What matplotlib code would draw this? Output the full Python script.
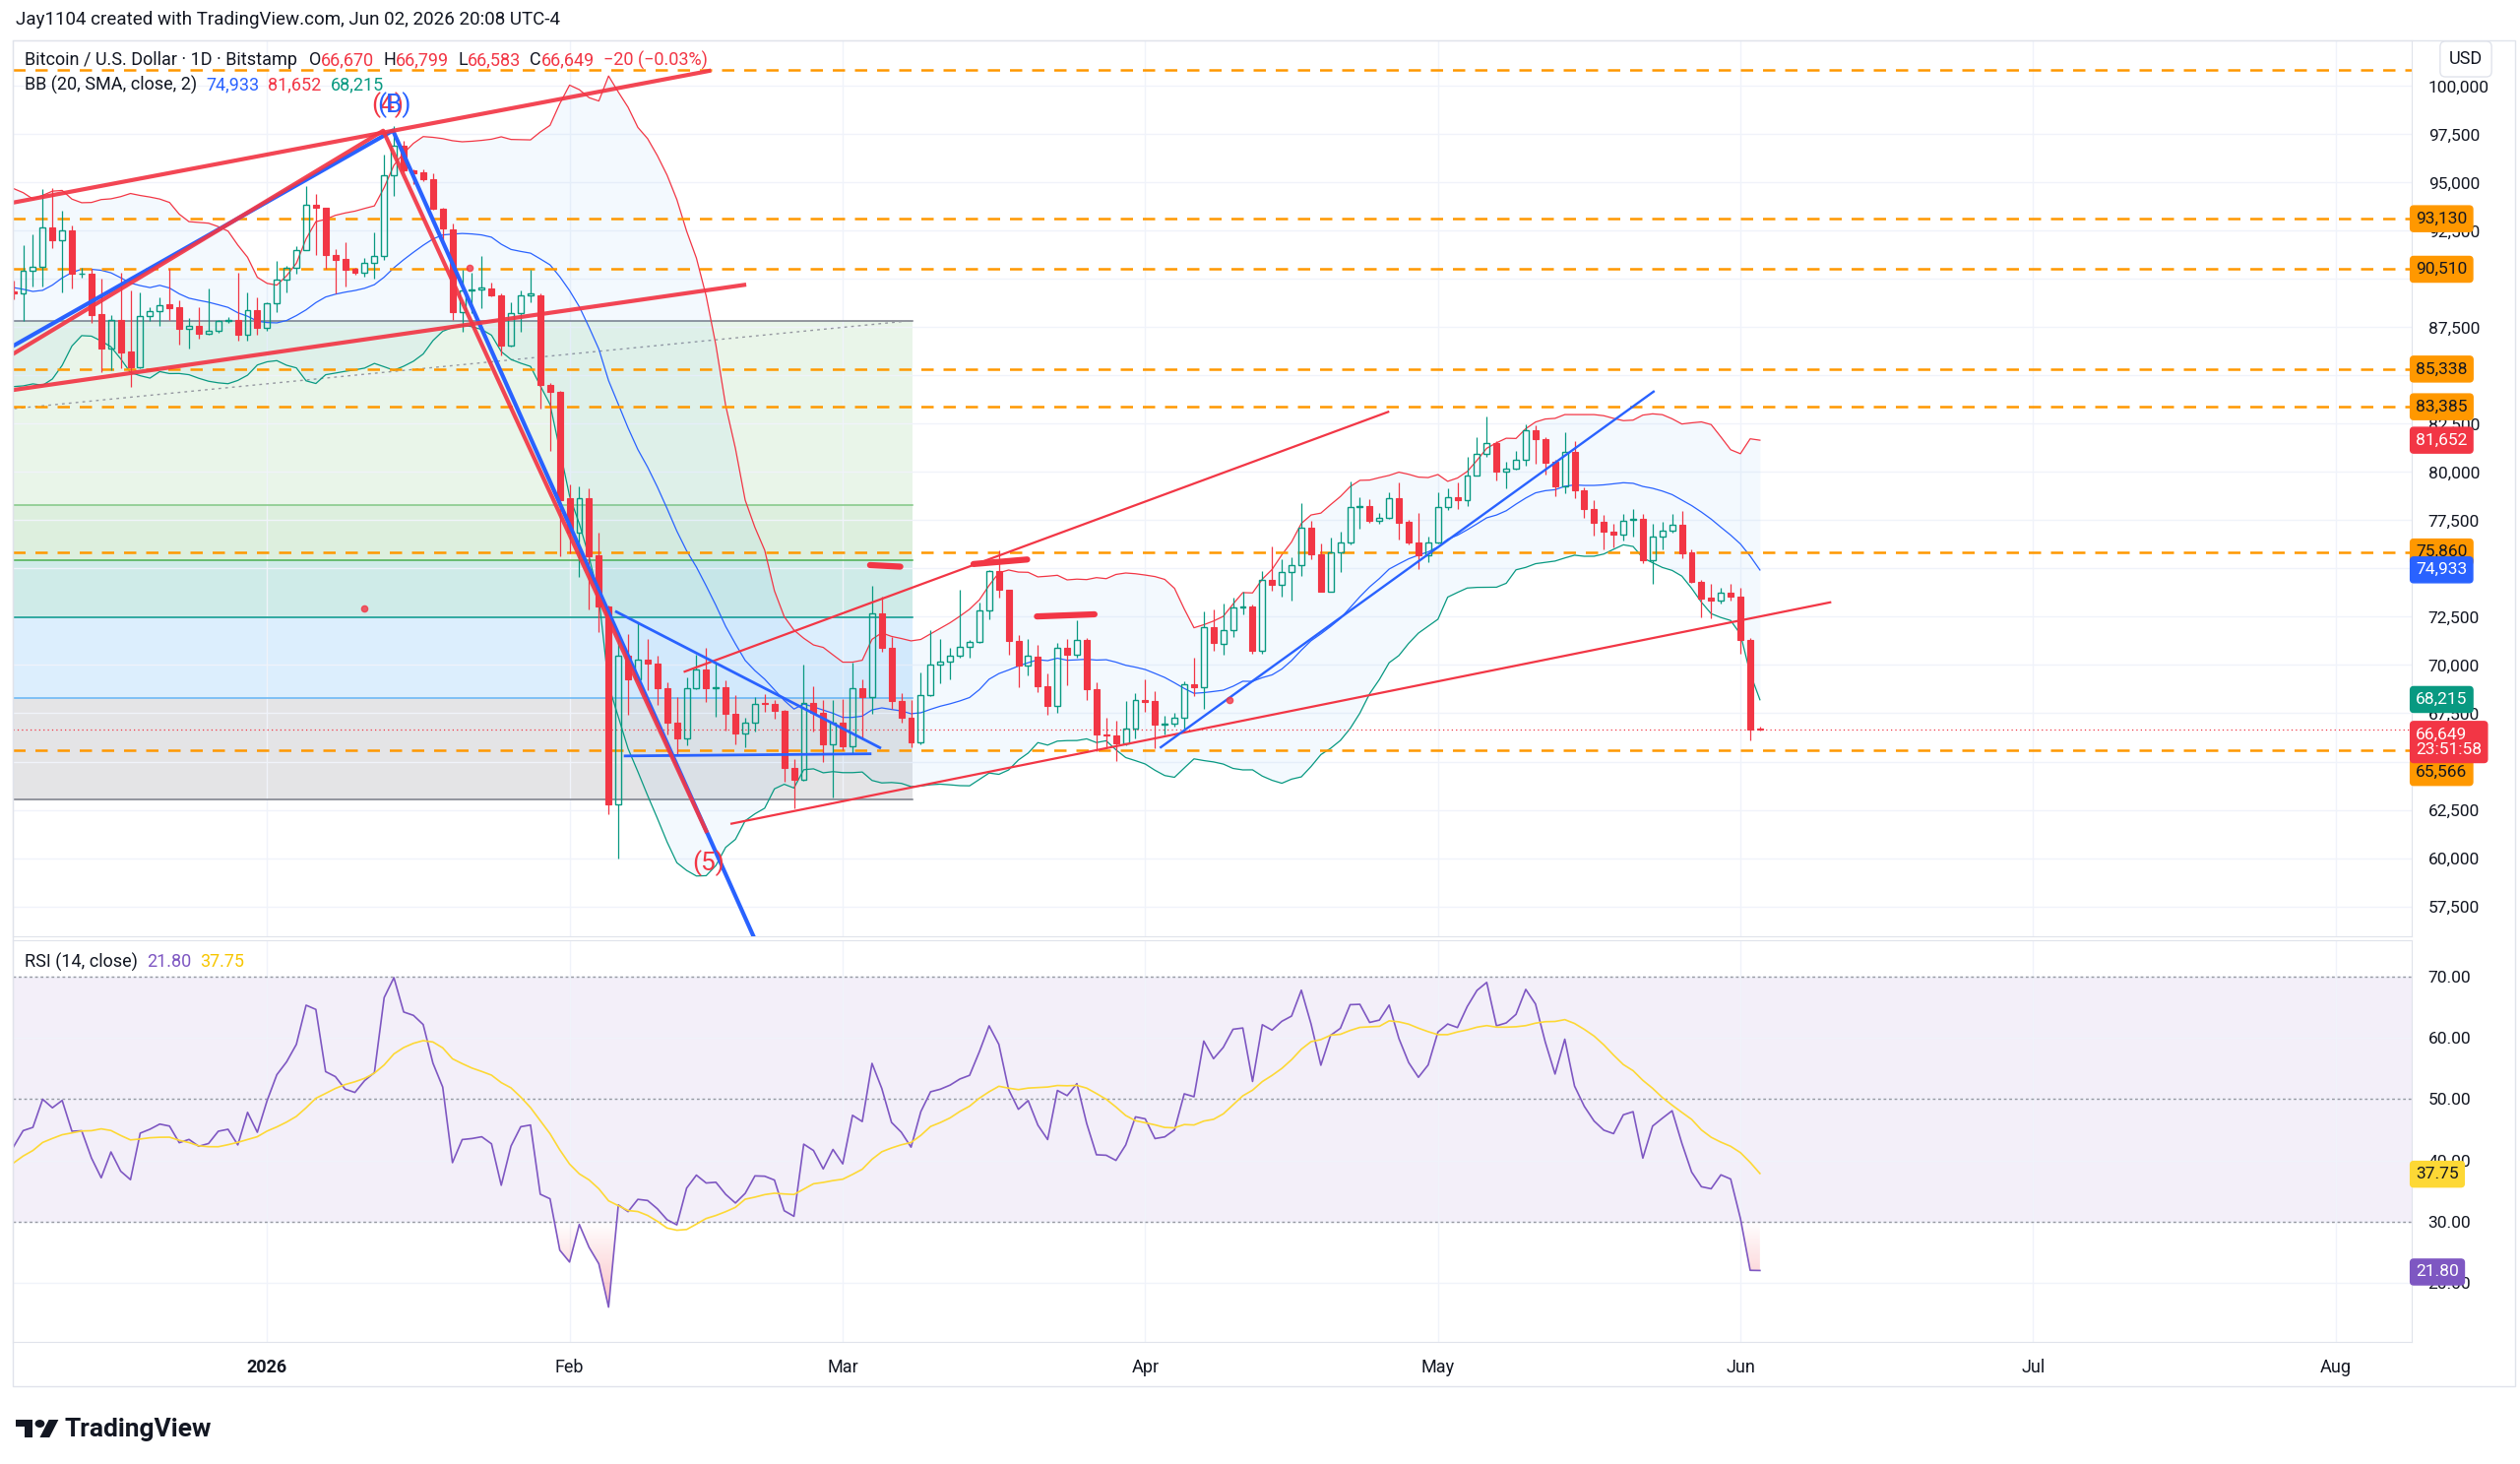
import numpy as np
import pandas as pd
import matplotlib
matplotlib.use("Agg")
import matplotlib.pyplot as plt
from matplotlib.colors import LinearSegmentedColormap
from matplotlib.path import Path
from matplotlib.patches import Rectangle, Polygon, Circle
from matplotlib.transforms import blended_transform_factory
import matplotlib.dates as mdates

plt.rcParams['font.family'] = ['Roboto', 'DejaVu Sans']

RED = '#F23645'
GREEN = '#089981'
BLUE = '#2962FF'
ORANGE = '#FF9800'
PURPLE = '#7E57C2'
YELLOW = '#FDD835'
TXT = '#131722'
GRID = '#F0F3FA'
FRAME = '#E0E3EB'

# closes before the visible range (Oct 20 - Dec 5 2025), only feed BB / RSI
warm_closes = [110500, 108400, 107600, 110100, 111000, 111600, 114500, 114100, 112900, 110000, 108300, 109600,
               110100, 110600, 106500, 101500, 103900, 101300, 103300, 102300, 104700, 105900, 103000, 101600,
               99700, 94500, 95600, 94200, 92200, 92900, 91500, 86600, 85100, 84700, 86800, 88300, 87400,
               90500, 91300, 90900, 90800, 90400, 86300, 91300, 93500, 92100, 89400]

# daily candles, Dec 6 2025 - Jun 3 2026
opens = [
    # Dec
    89380, 89250, 90420, 90650, 92670, 92030, 92540, 90260, 90290, 88180, 86400, 87860, 86240, 85440, 88110,
    88350, 88690, 88570, 87440, 87600, 87180, 87300, 87810, 87890, 87130, 88400,
    # Jan
    87470, 88770, 89970, 90600, 91490, 93840, 93690, 91270, 91050, 90510, 90340, 90850, 91190, 95370, 96930,
    95630, 95550, 95160, 93650, 92560, 88310, 89430, 89480, 89510, 89170, 86570, 88260, 89170, 89170, 84530, 84140,
    # Feb
    78670, 76850, 78670, 75700, 73020, 62780, 70490, 69240, 70290, 70100, 68800, 67030, 66200, 68810, 69780,
    68810, 68850, 67460, 66430, 66990, 68040, 67970, 67630, 64660, 64060, 68040, 67500, 65890,
    # Mar
    67020, 65810, 68810, 68340, 72680, 70880, 68140, 67290, 65970, 68460, 70000, 70200, 70500, 70930, 71180,
    72820, 74850, 73880, 71250, 69950, 70450, 68880, 67870, 70890, 70520, 71320, 68770, 66390, 66340, 65960, 66730,
    # Apr
    68210, 68140, 66900, 66950, 67290, 68990, 68850, 71950, 71100, 71830, 72970, 73050, 70760, 74430, 74180,
    74810, 75180, 77140, 75740, 73820, 75860, 76370, 78210, 78240, 77490, 77650, 78670, 77410, 76340, 75690,
    # May
    76330, 78200, 78700, 78570, 79840, 80920, 81480, 80010, 80180, 80660, 82190, 81730, 80540, 79260, 81050,
    79080, 78110, 77430, 76920, 76750, 77510, 77600, 75440, 76660, 76970, 77260, 75840, 74310, 73510, 73340, 73770,
    # Jun
    73560, 71300, 66670,
]
highs = [
    89900, 91780, 92320, 94650, 94740, 93550, 92790, 90600, 90510, 90000, 88150, 90340, 89410, 89330, 88570,
    89040, 90540, 88910, 87980, 88530, 89500, 87890, 88030, 90340, 89290, 89070,
    88820, 90930, 90680, 91730, 94820, 94400, 93720, 91560, 91900, 90600, 91100, 92400, 96460, 97950, 97170,
    95680, 95680, 95500, 93700, 92900, 90470, 90340, 91180, 89820, 89250, 88780, 89430, 90470, 89250, 84610, 84200,
    79350, 79270, 79140, 76850, 73100, 71590, 71590, 72160, 71330, 70490, 69110, 68330, 69370, 70540, 70910,
    70110, 69220, 68420, 67290, 68340, 68510, 68200, 67700, 65130, 70030, 68880, 68200, 68200,
    68260, 70110, 69270, 74090, 73530, 71470, 68560, 68170, 69610, 71800, 71350, 70880, 73920, 71300, 73240,
    74930, 75940, 73920, 71580, 71350, 71040, 69560, 71130, 71370, 72300, 71400, 69110, 67290, 67120, 68140, 68550,
    69280, 68650, 67360, 67530, 69160, 70380, 72800, 72880, 73190, 73480, 73820, 73160, 74890, 76130, 75490,
    75570, 78410, 77490, 76300, 76590, 76930, 79530, 78720, 78580, 77900, 78970, 79480, 77500, 77900, 76660,
    78960, 79180, 79470, 80780, 81800, 82870, 81600, 80520, 81090, 82480, 82410, 81800, 80660, 82070, 81630,
    79210, 78570, 77770, 77340, 77820, 78110, 77820, 77310, 77430, 77850, 77990, 76010, 74400, 74230, 74020, 74190,
    74020, 71400, 66799,
]
lows = [
    88950, 87810, 89610, 89610, 91610, 89330, 89500, 90090, 87720, 85190, 85270, 85360, 84430, 85360, 87840,
    87600, 87890, 86620, 86400, 86930, 87130, 87220, 87720, 86790, 86790, 87130,
    87300, 88310, 89330, 90260, 91490, 91270, 90510, 89240, 89620, 90250, 90120, 90000, 90990, 94330, 95550,
    94900, 95100, 93600, 92040, 87870, 87270, 88260, 88520, 89090, 86040, 86490, 87270, 88780, 83310, 81100, 75620,
    75810, 74580, 72890, 71720, 62260, 60000, 67420, 69110, 68720, 67940, 66380, 65340, 65860, 68760, 68090,
    67330, 66620, 65890, 65720, 66570, 67580, 67240, 63950, 62590, 63980, 66570, 64960, 63130,
    65600, 65380, 66140, 67460, 70710, 67750, 66990, 65720, 65900, 68400, 69050, 69270, 70370, 70370, 71150,
    72350, 73490, 70540, 68850, 69440, 68590, 67410, 67500, 68940, 70380, 68170, 65540, 65710, 65030, 65820, 66220,
    67580, 65710, 66390, 66810, 66560, 68380, 67750, 70760, 70520, 71440, 72630, 70590, 70590, 73870, 73530,
    73360, 74640, 75490, 73800, 73790, 74840, 76250, 77050, 77360, 77310, 77600, 76510, 76250, 74980, 75330,
    76290, 78060, 78110, 78230, 79800, 80780, 79550, 79180, 80150, 80320, 80440, 79890, 78740, 78910, 78670,
    77650, 76690, 76010, 76120, 76460, 76660, 75300, 74230, 76010, 76860, 75550, 74240, 72490, 72410, 73170, 73340,
    70570, 66110, 66583,
]
closes = [
    89250, 90420, 90650, 92670, 92030, 92540, 90260, 90290, 88150, 86400, 87860, 86200, 85440, 88110, 88350,
    88650, 88520, 87440, 87600, 87180, 87300, 87810, 87890, 87130, 88400, 87470,
    88770, 89970, 90600, 91490, 93840, 93690, 91240, 91020, 90480, 90340, 90850, 91190, 95370, 96930, 95630,
    95500, 95160, 93650, 92610, 88310, 89430, 89480, 89560, 89170, 86570, 88260, 89170, 89250, 84530, 84140, 78570,
    76850, 78670, 75620, 73020, 62780, 70490, 69240, 70290, 70100, 68800, 67030, 66200, 68810, 69780, 68810,
    68860, 67460, 66430, 66990, 68000, 67970, 67630, 64660, 64060, 68040, 67500, 65890, 67020,
    65810, 68810, 68340, 72680, 70880, 68140, 67290, 65970, 68460, 70000, 70200, 70500, 70930, 71180, 72820,
    74850, 73880, 71250, 69950, 70500, 68880, 67870, 70880, 70550, 71320, 68770, 66390, 66350, 65960, 66730, 68210,
    68090, 66900, 66980, 67290, 68990, 68850, 71950, 71150, 71830, 72970, 73050, 70760, 74430, 74180, 74810,
    75180, 77140, 75740, 73820, 75860, 76370, 78210, 78240, 77490, 77650, 78670, 77360, 76340, 75690, 76330,
    78200, 78700, 78570, 79840, 80920, 81480, 80010, 80180, 80660, 82190, 81730, 80460, 79260, 81050, 79080,
    78110, 77380, 76920, 76750, 77480, 77600, 75440, 76660, 76970, 77260, 75810, 74310, 73460, 73340, 73770, 73560,
    71300, 66669, 66649,
]

# horizontal support / resistance levels (orange dashed)
level_prices = [100850, 93130, 90510, 85338, 83385, 75860, 65566]
level_tag_shift = [None, 0, 0, 0, 0, 0, -16]      # None = no axis tag
bb_last = [74933, 81652, 68215]                  # basis, upper, lower
rsi_last, rsi_ma_last = 21.80, 37.75
countdown = "23:51:58"
hidden_price_ticks = [65000, 75000, 85000, 90000]   # covered by the tags

# fib retracement zones
fib_prices = [87832, 78291, 75434, 72474, 68291, 63036]
fib_lines = ['#787B86', '#81C784', '#4CAF50', '#009688', '#64B5F6', '#787B86']
fib_fills = [('#4CAF50', 0.12), ('#4CAF50', 0.19), ('#009688', 0.19), ('#64B5F6', 0.22), ('#787B86', 0.20)]
fib_end_day = 66.2
fib_trend = [(-25.9, 83290), (65.7, 87832)]

# drawings: (days from 2026-01-01, price)
red_thick = [
    [(-26.5, 93920), (45.3, 100790)],
    [(-26.5, 84220), (48.9, 89700)],
    [(-26.5, 85980), (11.9, 97690), (45.0, 61400)],
]
blue_thick = [
    [(-26.5, 86400), (12.9, 97700), (49.8, 56000)],
]
red_thin = [
    [(42.8, 69660), (114.9, 83120)],
    [(47.6, 61780), (160.2, 73250)],
]
blue_thin = [
    [(35.8, 72760), (62.8, 65720)],
    [(36.7, 65290), (61.8, 65400)],
    [(91.6, 65740), (142.1, 84170)],
]
red_marks = [
    [(61.8, 75180), (64.9, 75100)],
    [(72.4, 75235), (77.9, 75470)],
    [(78.9, 72520), (84.8, 72630)],
]
red_dots = [(10.0, 72940), (20.8, 90600), (98.6, 68205)]
wave_labels = [("(4)", 12.35, 99050, RED), ("(B)", 13.05, 99050, BLUE), ("(5)", 45.2, 59750, RED)]

month_ticks = ['2026-01-01', '2026-02-01', '2026-03-01', '2026-04-01', '2026-05-01',
               '2026-06-01', '2026-07-01', '2026-08-01']
month_labels = ['2026', 'Feb', 'Mar', 'Apr', 'May', 'Jun', 'Jul', 'Aug']

BASE = pd.Timestamp('2026-01-01')
def at(d):
    return BASE + pd.Timedelta(days=d)

dates = pd.date_range('2025-12-06', periods=len(closes), freq='D')
warm_dates = pd.date_range(end=dates[0] - pd.Timedelta(days=1), periods=len(warm_closes), freq='D')

# indicators
all_close = pd.Series(warm_closes + closes, index=warm_dates.append(dates), dtype=float)
mid = all_close.rolling(20).mean()
sd = all_close.rolling(20).std(ddof=0)
bb_mid = mid[dates].values
bb_up = (mid + 2 * sd)[dates].values
bb_lo = (mid - 2 * sd)[dates].values

delta = all_close.diff().fillna(0).values
gain = np.clip(delta, 0, None)
loss = np.clip(-delta, 0, None)
ag = np.full(len(delta), np.nan)
al = np.full(len(delta), np.nan)
ag[14] = gain[1:15].mean()
al[14] = loss[1:15].mean()
for i in range(15, len(delta)):
    ag[i] = (ag[i - 1] * 13 + gain[i]) / 14
    al[i] = (al[i - 1] * 13 + loss[i]) / 14
rsi_s = pd.Series(100 - 100 / (1 + ag / al), index=all_close.index)
rsi_ma_s = rsi_s.rolling(14).mean()
rsi = rsi_s[dates].values
rsi_ma = rsi_ma_s[dates].values

# figure / panes
W, H = 2560, 1487
fig = plt.figure(figsize=(W / 100, H / 100), dpi=100)
fig.patch.set_facecolor('white')
def fx(px): return px / W
def fy(py): return 1 - py / H

ax = fig.add_axes([fx(13), fy(951), fx(2450) - fx(13), fy(41) - fy(951)])
axr = fig.add_axes([fx(13), fy(1363), fx(2450) - fx(13), fy(955) - fy(1363)], sharex=ax)

xlim = (at(-26.06), at(219.8))

# fib zones
for i, (c, a) in enumerate(fib_fills):
    ax.fill_between([xlim[0], at(fib_end_day)], fib_prices[i + 1], fib_prices[i], color=c, alpha=a,
                    lw=0, zorder=0.5)
for p, c in zip(fib_prices, fib_lines):
    ax.plot([xlim[0], at(fib_end_day)], [p, p], color=c, lw=1.1, zorder=0.6)
ax.plot([at(d) for d, _ in fib_trend], [p for _, p in fib_trend], color='#9598A1', lw=1,
        ls=(0, (2, 3)), zorder=0.7)

# bollinger bands
ax.fill_between(dates, bb_lo, bb_up, color='#2196F3', alpha=0.05, lw=0, zorder=1)
ax.plot(dates, bb_up, color=RED, lw=0.9, zorder=1.5)
ax.plot(dates, bb_mid, color=BLUE, lw=0.9, zorder=1.5)
ax.plot(dates, bb_lo, color=GREEN, lw=0.9, zorder=1.5)

# orange dashed levels
for p in level_prices:
    ax.axhline(p, color=ORANGE, lw=1.8, ls=(0, (5, 4)), zorder=1.8)

# current price dotted line
ax.axhline(closes[-1], color=RED, lw=0.9, ls=(0, (1, 2.5)), zorder=1.8)

# candles
o = np.array(opens, float); h = np.array(highs, float)
l = np.array(lows, float); c = np.array(closes, float)
up = c >= o
top = np.maximum(o, c); bot = np.minimum(o, c)
bh = np.maximum(top - bot, 45)
ax.vlines(dates[up], top[up], h[up], color=GREEN, lw=0.9, zorder=3)
ax.vlines(dates[up], l[up], bot[up], color=GREEN, lw=0.9, zorder=3)
ax.vlines(dates[~up], l[~up], h[~up], color=RED, lw=0.9, zorder=3)
ax.bar(dates[up], bh[up], bottom=bot[up], width=0.6, facecolor='none', edgecolor=GREEN, lw=1.0, zorder=3.1)
ax.bar(dates[~up], bh[~up], bottom=bot[~up], width=0.6, facecolor=RED, edgecolor=RED, lw=0.8, zorder=3.1)

# drawings
def draw(seqs, color, lw, z, **kw):
    for s in seqs:
        ax.plot([at(d) for d, _ in s], [p for _, p in s], color=color, lw=lw, zorder=z, **kw)

draw(blue_thick, BLUE, 3.0, 4)
draw(red_thick, RED, 3.0, 4.1, alpha=0.92)
draw(red_thin, RED, 1.6, 4)
draw(blue_thin[:2], BLUE, 2.0, 4)
draw(blue_thin[2:], BLUE, 1.7, 4)
draw(red_marks, RED, 4.5, 4, solid_capstyle='round')
ax.plot([at(d) for d, _ in red_dots], [p for _, p in red_dots], 'o', color=RED, ms=4.5, alpha=0.8, zorder=4)
for s, d, p, col in wave_labels:
    ax.text(at(d), p, s, color=col, fontsize=19, ha='center', va='center', zorder=5)

# price pane axes
ax.set_xlim(*xlim)
ax.set_ylim(55944, 102372)
ax.set_yticks(np.arange(57500, 100001, 2500))
ax.yaxis.set_major_formatter(plt.FuncFormatter(
    lambda v, _: "" if round(v) in hidden_price_ticks else f"{v:,.0f}"))
ax.yaxis.tick_right()
ax.tick_params(axis='y', length=0, pad=12, labelsize=12.5, labelcolor=TXT)
ax.tick_params(axis='x', length=0, labelbottom=False)
ax.grid(True, color=GRID, lw=1, zorder=0)
ax.set_axisbelow(True)
for sp in ax.spines.values():
    sp.set_color(FRAME)

def tag(a, text, y, bg, fg, dy=0, size=12.5):
    a.annotate(text, xy=(1, y), xycoords=blended_transform_factory(a.transAxes, a.transData),
               xytext=(3, dy), textcoords='offset points', ha='left', va='center', fontsize=size,
               color=fg, zorder=30, annotation_clip=False, linespacing=1.05,
               bbox=dict(boxstyle='round,pad=0.32,rounding_size=0.2', fc=bg, ec=bg))

for p, sh in zip(level_prices, level_tag_shift):
    if sh is not None:
        tag(ax, f"{p:,}", p, ORANGE, TXT, dy=sh)
tag(ax, f"{bb_last[1]:,}", bb_last[1], RED, 'white')
tag(ax, f"{bb_last[0]:,}", bb_last[0], BLUE, 'white')
tag(ax, f"{bb_last[2]:,}", bb_last[2], GREEN, 'white')
tag(ax, f"{closes[-1]:,}\n{countdown}", closes[-1], RED, 'white', dy=-9)

# RSI pane
axr.axhspan(30, 70, color=PURPLE, alpha=0.09, lw=0, zorder=0.5)
for v in (70, 50, 30):
    axr.axhline(v, color='#9598A1', lw=1, ls=(0, (2, 2)), zorder=0.8)
poly = axr.fill_between(dates, rsi, 30, where=rsi < 30, interpolate=True, color='none', lw=0)
paths = poly.get_paths()
if paths:
    cmap = LinearSegmentedColormap.from_list('os', [(0.95, 0.21, 0.27, 0.45), (0.95, 0.21, 0.27, 0.0)])
    x0n, x1n = mdates.date2num(xlim[0]), mdates.date2num(xlim[1])
    img = axr.imshow(np.linspace(0, 1, 256).reshape(-1, 1), extent=[x0n, x1n, 10.4, 30], origin='lower',
                     aspect='auto', cmap=cmap, zorder=1)
    img.set_clip_path(Path.make_compound_path(*paths), axr.transData)
axr.fill_between(dates, rsi, 70, where=rsi > 70, interpolate=True, color=GREEN, alpha=0.2, lw=0)
axr.plot(dates, rsi, color=PURPLE, lw=1.2, zorder=2)
axr.plot(dates, rsi_ma, color=YELLOW, lw=1.2, zorder=2)
axr.set_xlim(*xlim)
axr.set_ylim(10.4, 75.9)
axr.set_yticks([20, 30, 40, 50, 60, 70])
axr.yaxis.set_major_formatter(plt.FuncFormatter(lambda v, _: f"{v:.2f}"))
axr.yaxis.tick_right()
axr.tick_params(axis='y', length=0, pad=12, labelsize=12.5, labelcolor=TXT)
axr.set_xticks(pd.to_datetime(month_ticks))
axr.set_xticklabels(month_labels)
axr.tick_params(axis='x', length=0, pad=12, labelsize=13, labelcolor=TXT)
axr.get_xticklabels()[0].set_fontweight('bold')
axr.grid(True, color=GRID, lw=1, zorder=0)
axr.set_axisbelow(True)
for sp in axr.spines.values():
    sp.set_color(FRAME)
tag(axr, f"{rsi_ma_last:.2f}", rsi_ma_last, YELLOW, TXT)
tag(axr, f"{rsi_last:.2f}", rsi_last, PURPLE, 'white')

# outer frame
fig.patches.append(Rectangle((fx(13), fy(1408)), fx(2555) - fx(13), fy(41) - fy(1408), transform=fig.transFigure,
                             fill=False, ec=FRAME, lw=1))

# header / legends
fig.text(fx(16), fy(20), "Jay1104 created with TradingView.com, Jun 02, 2026 20:08 UTC-4", color=TXT,
         fontsize=13.5, va='center')
renderer = fig.canvas.get_renderer()

def seq_text(x, y, parts, size):
    for s, col, gap in parts:
        t = fig.text(x, y, s, color=col, fontsize=size, va='center', ha='left', zorder=10)
        x += (t.get_window_extent(renderer).width + gap) / W

chg = closes[-1] - closes[-2]
pct = chg / closes[-2] * 100
seq_text(fx(25), fy(61), [("Bitcoin / U.S. Dollar · 1D · Bitstamp", TXT, 12),
                          ("O", TXT, 0), (f"{opens[-1]:,}", RED, 9),
                          ("H", TXT, 0), (f"{highs[-1]:,}", RED, 9),
                          ("L", TXT, 0), (f"{lows[-1]:,}", RED, 9),
                          ("C", TXT, 0), (f"{closes[-1]:,}", RED, 9),
                          (f"\u2212{abs(chg)} (\u2212{abs(pct):.2f}%)", RED, 0)], 13)
seq_text(fx(25), fy(86), [("BB (20, SMA, close, 2)", TXT, 9), (f"{bb_last[0]:,}", BLUE, 9),
                          (f"{bb_last[1]:,}", RED, 9), (f"{bb_last[2]:,}", GREEN, 0)], 13)
seq_text(fx(25), fy(977), [("RSI (14, close)", TXT, 9), (f"{rsi_last:.2f}", PURPLE, 9),
                           (f"{rsi_ma_last:.2f}", '#F7C600', 0)], 13)

fig.text(fx(2505), fy(60), "USD", color=TXT, fontsize=13, ha='center', va='center', zorder=20,
         bbox=dict(boxstyle='round,pad=0.5,rounding_size=0.3', fc='white', ec=FRAME))

# TradingView logo
lax = fig.add_axes([fx(16), fy(1466), fx(60) - fx(16), fy(1438) - fy(1466)])
lax.set_xlim(0, 36); lax.set_ylim(0, 28); lax.axis('off')
lax.add_patch(Polygon([(0, 24), (14, 24), (14, 6), (7, 6), (7, 17), (0, 17)], closed=True, fc=TXT, ec='none'))
lax.add_patch(Polygon([(20, 6), (27.5, 24), (35.5, 24), (28, 6)], closed=True, fc=TXT, ec='none'))
lax.add_patch(Circle((20, 20), 4, fc=TXT, ec='none'))
fig.text(fx(66), fy(1452), "TradingView", color=TXT, fontsize=19, fontweight='bold', va='center')

fig.savefig('out.png', dpi=100, facecolor='white')
